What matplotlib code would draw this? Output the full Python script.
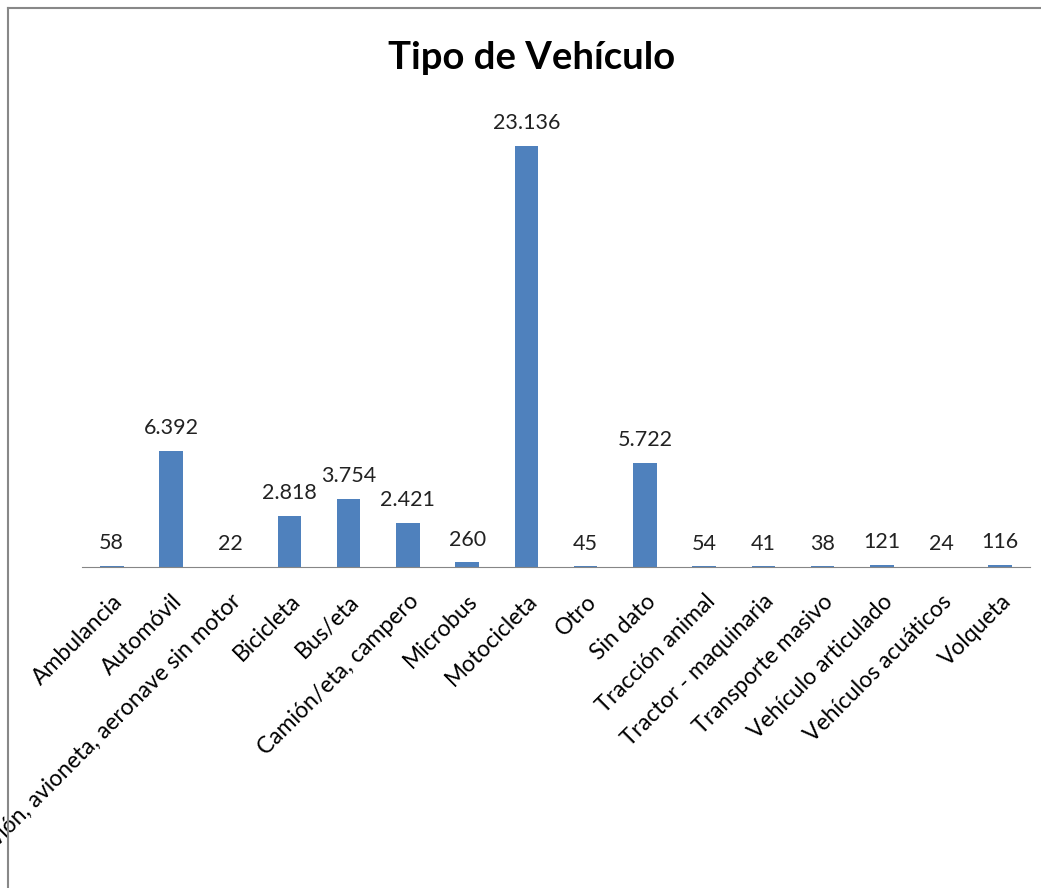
import matplotlib.pyplot as plt
from matplotlib.lines import Line2D

# Vehicle types and counts
categorias = ['Ambulancia', 'Automóvil', 'Avión, avioneta, aeronave sin motor',
              'Bicicleta', 'Bus/eta', 'Camión/eta, campero', 'Microbus',
              'Motocicleta', 'Otro', 'Sin dato', 'Tracción animal',
              'Tractor - maquinaria', 'Transporte masivo', 'Vehículo articulado',
              'Vehículos acuáticos', 'Volqueta']
valores = [58, 6392, 22, 2818, 3754, 2421, 260, 23136, 45, 5722, 54, 41, 38,
           121, 24, 116]

plt.rcParams['font.family'] = ['Lato', 'DejaVu Sans']

fig = plt.figure(figsize=(10.41, 8.88), dpi=100)
ax = fig.add_axes([0.0788, 0.3615, 0.9106, 0.5124])

x = range(len(categorias))
bars = ax.bar(x, valores, width=0.4, color='#4F81BD')

# value labels with dot as thousands separator
for b, v in zip(bars, valores):
    txt = f'{v:,}'.replace(',', '.')
    ax.annotate(txt, (b.get_x() + b.get_width() / 2, v),
                xytext=(0, 9), textcoords='offset points',
                ha='center', va='bottom', fontsize=15.5, color='#222222')

ax.set_xlim(-0.5, len(categorias) - 0.5)
ax.set_ylim(0, 25000)
ax.set_xticks(list(x))
ax.set_xticklabels(categorias, rotation=45, ha='right',
                   rotation_mode='anchor', fontsize=16.5)
ax.tick_params(axis='x', length=0, pad=17)
ax.set_yticks([])
for s in ['left', 'right', 'top']:
    ax.spines[s].set_visible(False)
ax.spines['bottom'].set_color('#868686')

fig.text(0.511, 0.935, 'Tipo de Vehículo', ha='center', va='center',
         fontsize=27.5, fontweight='bold')

# chart frame (left and top edges)
fig.add_artist(Line2D([8 / 1041, 8 / 1041], [0, 1 - 8 / 888],
                      transform=fig.transFigure, color='#888888', lw=1.5))
fig.add_artist(Line2D([8 / 1041, 1], [1 - 8 / 888, 1 - 8 / 888],
                      transform=fig.transFigure, color='#888888', lw=1.5))

fig.savefig('out.png', dpi=100)
